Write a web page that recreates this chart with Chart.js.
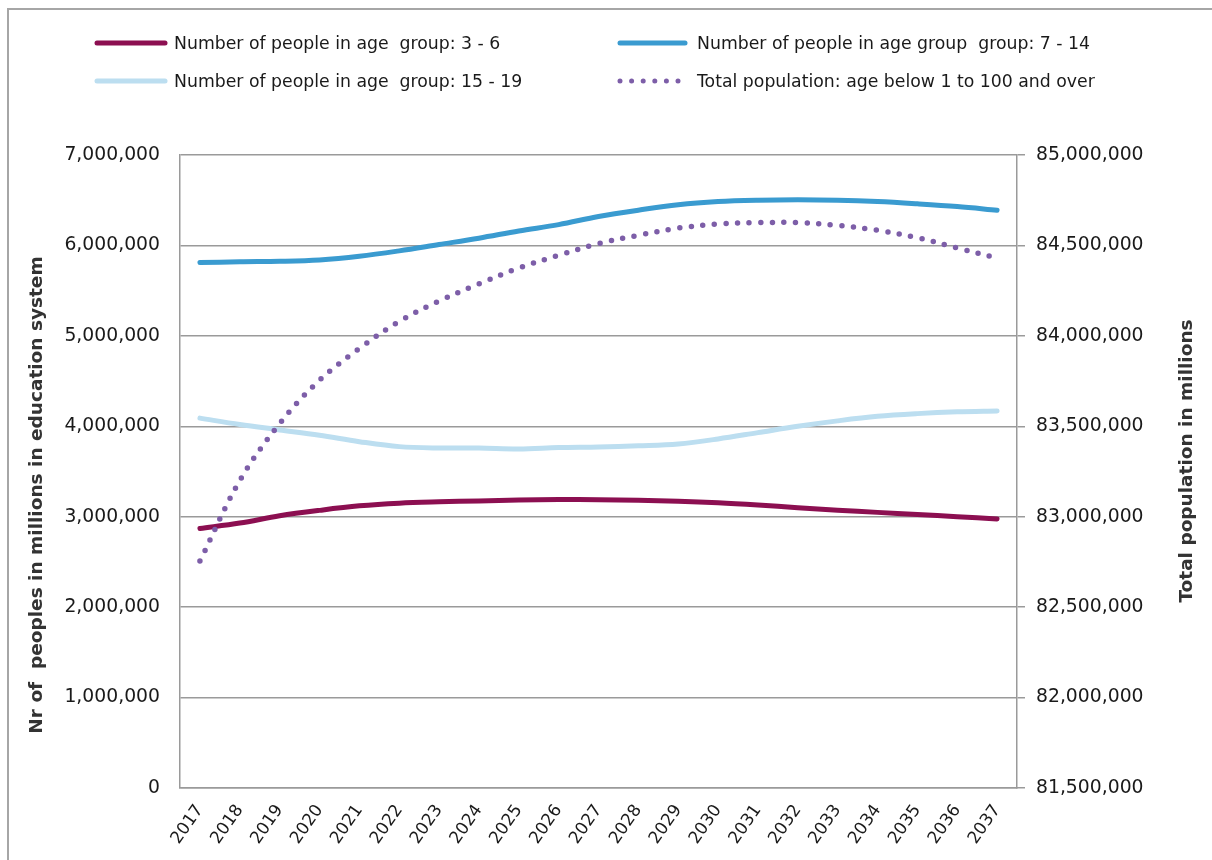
<!DOCTYPE html>
<html>
<head>
<meta charset="utf-8">
<script src="https://cdn.jsdelivr.net/npm/chart.js@4/dist/chart.umd.min.js"></script>
<style>
  html, body { margin:0; padding:0; background:#fff; }
  #wrap { position:relative; width:1212px; height:860px; overflow:hidden; font-family:"DejaVu Sans", Verdana, sans-serif; }
  #frame { position:absolute; left:7px; top:8px; width:1300px; height:900px; border:2px solid #a6a6a6; box-sizing:border-box; }
  #chart { position:absolute; left:0; top:0; }
  .leg { position:absolute; font-size:17.3px; color:#1a1a1a; white-space:pre; line-height:20px; }
  .leg svg { position:absolute; top:0; }
</style>
</head>
<body>
<div id="wrap">
  <div id="frame"></div>
  <canvas id="chart" width="1212" height="860"></canvas>
  <div id="legend"></div>
</div>
<script>
// years on the x axis
const years = ['2017','2018','2019','2020','2021','2022','2023','2024','2025','2026','2027',
               '2028','2029','2030','2031','2032','2033','2034','2035','2036','2037'];

// left axis series (people in education system)
const age3to6 = [2870000,2930000,3010000,3070000,3120000,3150000,3165000,3175000,3185000,3190000,3188000,
                 3182000,3172000,3155000,3130000,3100000,3072000,3048000,3025000,3000000,2975000];
const age7to14 = [5810000,5820000,5825000,5840000,5880000,5940000,6010000,6080000,6160000,6230000,6320000,
                  6390000,6450000,6485000,6500000,6505000,6500000,6485000,6460000,6430000,6390000];
const age15to19 = [4090000,4020000,3960000,3900000,3830000,3775000,3760000,3760000,3750000,3765000,3772000,
                   3785000,3805000,3860000,3930000,4000000,4060000,4110000,4140000,4160000,4170000];

// right axis series (total population)
const totalPop = [82755000,83200000,83515000,83755000,83930000,84080000,84193000,84287000,84375000,84445000,84510000,
                  84556000,84596000,84618000,84626000,84626000,84611000,84584000,84543000,84486000,84430000];

const labels = ['Number of people in age  group: 3 - 6',
                'Number of people in age group  group: 7 - 14',
                'Number of people in age  group: 15 - 19',
                'Total population: age below 1 to 100 and over'];
const colors = ['#8c0f51','#3a9bd0','#bcdef0','#7d5ea8'];

const leftTicks = [0,1000000,2000000,3000000,4000000,5000000,6000000,7000000];
const rightTicks = [81500000,82000000,82500000,83000000,83500000,84000000,84500000,85000000];

const leftTitle = 'Nr of  peoples in millions in education system';
const rightTitle = 'Total population in millions';

const fontFam = '"DejaVu Sans", Verdana, sans-serif';
const gridCol = '#9a9a9a';
const fmt = v => Number(v).toLocaleString('en-US');

function line(label, data, color, axis, dotted){
  const ds = {
    label, data, yAxisID: axis,
    borderColor: color, backgroundColor: color,
    borderWidth: 5, pointRadius: 0, tension: 0.35,
    borderCapStyle: 'round', borderJoinStyle: 'round', fill: false
  };
  if(dotted){ ds.borderDash = [0, 11.6]; ds.borderWidth = 5.5; }
  return ds;
}

// both axis titles read bottom-to-top, like the original
const axisTitles = {
  id: 'axisTitles',
  afterDraw(chart){
    const ctx = chart.ctx;
    ctx.save();
    ctx.fillStyle = '#333';
    ctx.font = 'bold 18.5px ' + fontFam;
    ctx.textAlign = 'center';
    ctx.textBaseline = 'middle';
    [[leftTitle, 37, 495], [rightTitle, 1187, 461]].forEach(([t, x, y]) => {
      ctx.save();
      ctx.translate(x, y);
      ctx.rotate(-Math.PI / 2);
      ctx.fillText(t, 0, 0);
      ctx.restore();
    });
    ctx.restore();
  }
};

new Chart(document.getElementById('chart').getContext('2d'), {
  type: 'line',
  data: {
    labels: years,
    datasets: [
      line(labels[3], totalPop, colors[3], 'y1', true),
      line(labels[2], age15to19, colors[2], 'y'),
      line(labels[1], age7to14, colors[1], 'y'),
      line(labels[0], age3to6, colors[0], 'y')
    ]
  },
  options: {
    responsive: false,
    animation: false,
    layout: { padding: { top: 155, left: 0, right: 0, bottom: 0 } },
    plugins: { legend: { display: false }, tooltip: { enabled: false } },
    scales: {
      x: {
        offset: true,
        grid: { display: false, drawTicks: false },
        border: { display: true, color: gridCol, width: 1.5 },
        ticks: { minRotation: 55, maxRotation: 55, padding: 13, color: '#1a1a1a', font: { family: fontFam, size: 17 } },
        afterFit: s => { s.height = 72; }
      },
      y: {
        position: 'left',
        min: 0, max: 7000000,
        afterBuildTicks: s => { s.ticks = leftTicks.map(v => ({ value: v })); },
        grid: { color: gridCol, lineWidth: 1.5, drawTicks: false },
        border: { display: true, color: gridCol, width: 1.5 },
        ticks: { padding: 20, color: '#1a1a1a', font: { family: fontFam, size: 18.8 }, callback: fmt },
        afterFit: s => { s.width = 180; }
      },
      y1: {
        position: 'right',
        min: 81500000, max: 85000000,
        afterBuildTicks: s => { s.ticks = rightTicks.map(v => ({ value: v })); },
        grid: { drawOnChartArea: false, drawTicks: true, tickLength: 8, color: gridCol, lineWidth: 1.5 },
        border: { display: true, color: gridCol, width: 1.5 },
        ticks: { padding: 11, color: '#1a1a1a', font: { family: fontFam, size: 18.8 }, callback: fmt },
        afterFit: s => { s.width = 195; }
      }
    }
  },
  plugins: [axisTitles]
});

// two-column legend, same order as the reference
const legPos = [[97,33],[620,33],[97,71],[620,71]];
const legEl = document.getElementById('legend');
labels.forEach((lab, i) => {
  const [x, y] = legPos[i];
  const w = i % 2 === 0 ? 68 : 65;
  const d = document.createElement('div');
  d.className = 'leg';
  d.style.left = x + 'px';
  d.style.top = y + 'px';
  const dash = i === 3 ? ' stroke-dasharray="0 11.6"' : '';
  d.innerHTML = '<svg width="' + (w + 6) + '" height="20" style="left:-3px"><line x1="3" y1="10" x2="' + (w + 3) +
    '" y2="10" stroke="' + colors[i] + '" stroke-width="5" stroke-linecap="round"' + dash + '/></svg>' +
    '<span style="position:absolute;left:77px;top:0"></span>';
  d.querySelector('span').textContent = lab;
  legEl.appendChild(d);
});
</script>
</body>
</html>
